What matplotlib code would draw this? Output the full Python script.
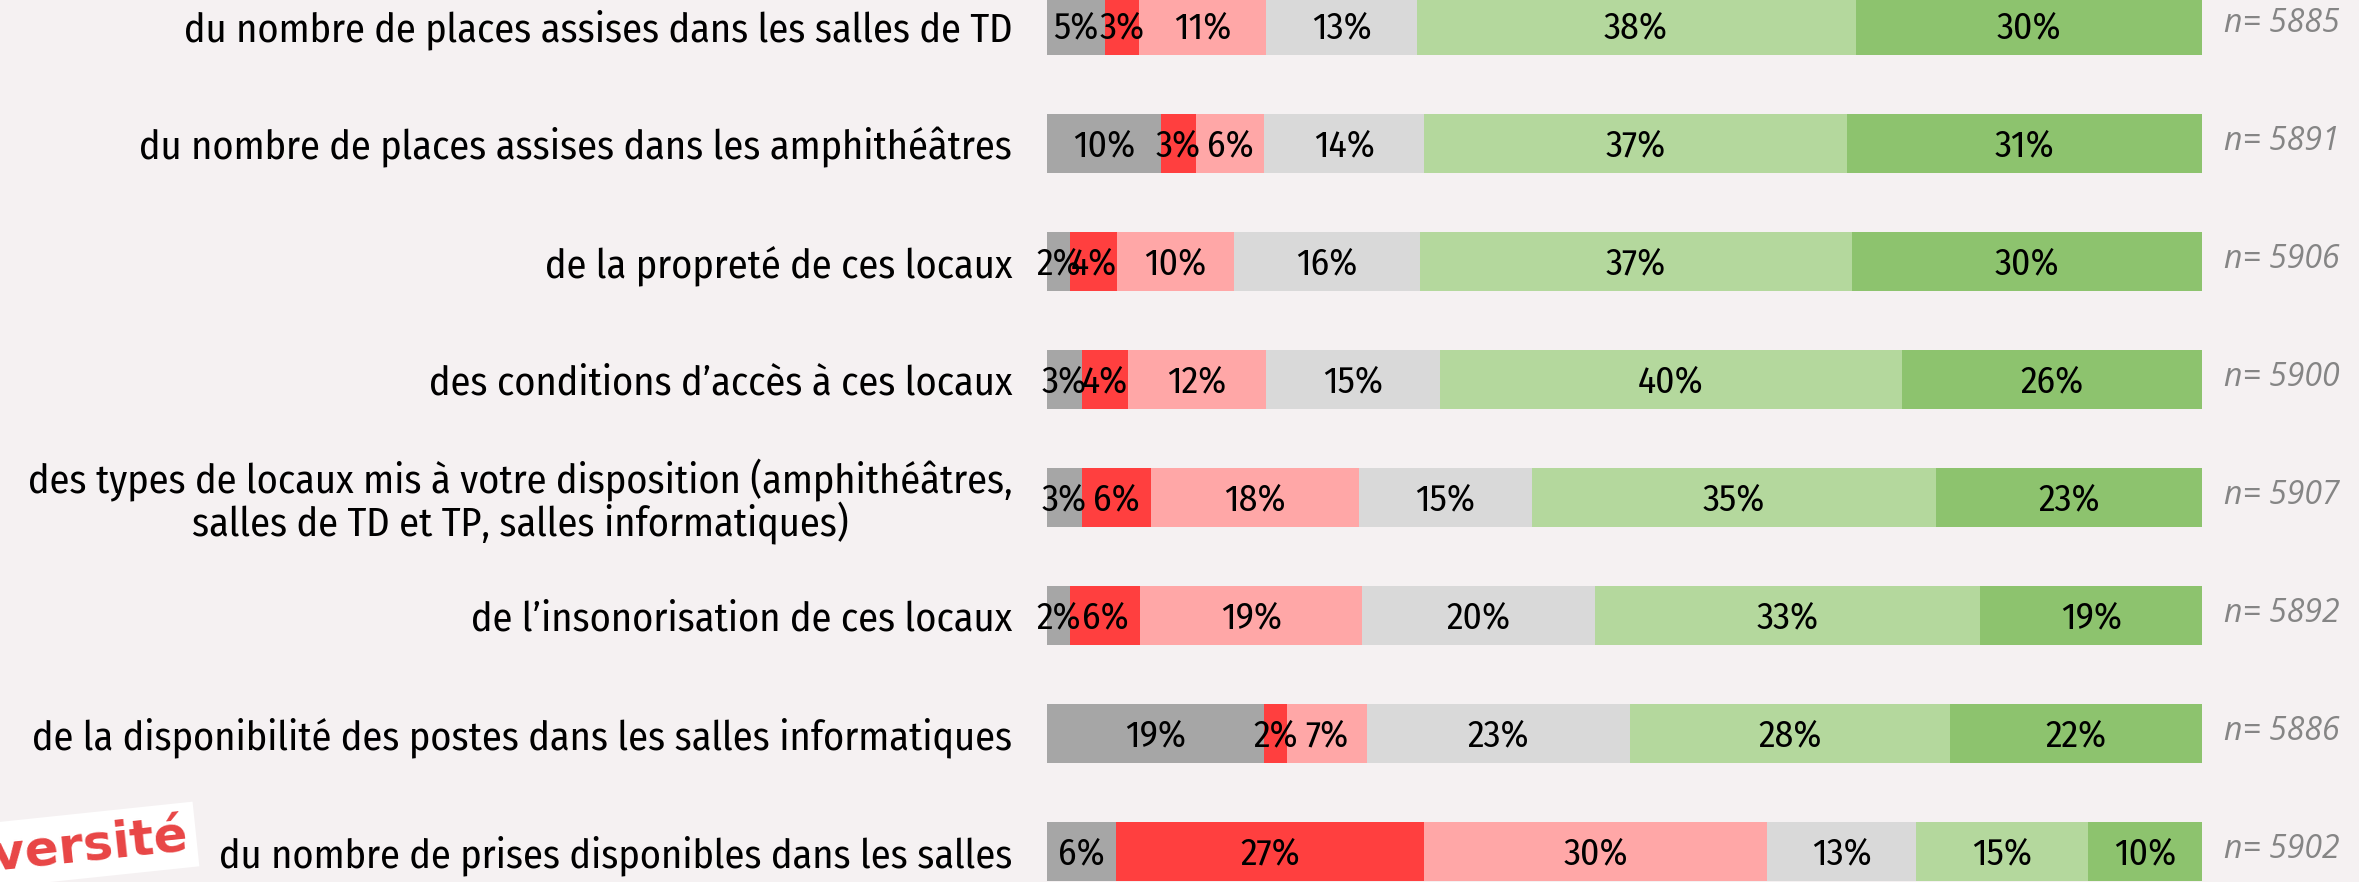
import matplotlib.pyplot as plt
import numpy as np

plt.rcParams['font.family'] = ['Fira Sans Condensed', 'DejaVu Sans']

# Questions (top to bottom)
questions = [
    "du nombre de places assises dans les salles de TD",
    "du nombre de places assises dans les amphithéâtres",
    "de la propreté de ces locaux",
    "des conditions d\u2019accès à ces locaux",
    "des types de locaux mis à votre disposition (amphithéâtres,\nsalles de TD et TP, salles informatiques)",
    "de l\u2019insonorisation de ces locaux",
    "de la disponibilité des postes dans les salles informatiques",
    "du nombre de prises disponibles dans les salles",
]

# answer shares in %, one list per category
nsp = [5, 10, 2, 3, 3, 2, 19, 6]
pas_du_tout = [3, 3, 4, 4, 6, 6, 2, 27]
plutot_pas = [11, 6, 10, 12, 18, 19, 7, 30]
neutre = [13, 14, 16, 15, 15, 20, 23, 13]
plutot = [38, 37, 37, 40, 35, 33, 28, 15]
tout_a_fait = [30, 31, 30, 26, 23, 19, 22, 10]

n_resp = [5885, 5891, 5906, 5900, 5907, 5892, 5886, 5902]

colors = ['#A6A6A6', '#FF3F3F', '#FFA7A7', '#D9D9D9', '#B4D89D', '#8DC36E']
bg = '#F5F1F2'

series = np.array([nsp, pas_du_tout, plutot_pas, neutre, plutot, tout_a_fait], dtype=float)
widths = series / series.sum(axis=0) * 100

fig = plt.figure(figsize=(23.59, 8.82), dpi=100, facecolor=bg)
ax = fig.add_axes([1047 / 2359, 0, 1155 / 2359, 1])
ax.set_facecolor(bg)

y = np.arange(len(questions))
left = np.zeros(len(questions))
for k in range(len(series)):
    ax.barh(y, widths[k], left=left, height=0.5, color=colors[k], edgecolor='none')
    for i in range(len(questions)):
        ax.text(left[i] + widths[k][i] / 2, y[i] + 0.02, f"{int(series[k][i])}%",
                ha='center', va='center', fontsize=27, color='black')
    left += widths[k]

for i in range(len(questions)):
    ax.text(101.9, y[i] - 0.02, f"n= {n_resp[i]}", ha='left', va='center',
            fontsize=23, style='italic', color='#858585', family=['Open Sans', 'DejaVu Sans'])

ax.set_xlim(0, 100)
ax.set_ylim((882 - 25.5) / 118, -25.5 / 118)
ax.set_yticks(y)
ax.set_yticklabels(questions, fontsize=29, multialignment='center', linespacing=1.0)
ax.tick_params(axis='y', length=0, pad=25)
ax.set_xticks([])
for s in ax.spines.values():
    s.set_visible(False)

# partial logo in the bottom-left corner
fig.text(190 / 2359, 1 - 850 / 882, "Université", ha='right', va='center',
         fontsize=36, fontweight='bold', color='#E84545', rotation=6,
         family='DejaVu Sans',
         bbox=dict(facecolor='white', edgecolor='none', pad=6))

fig.savefig('out.png', dpi=100, facecolor=bg)
